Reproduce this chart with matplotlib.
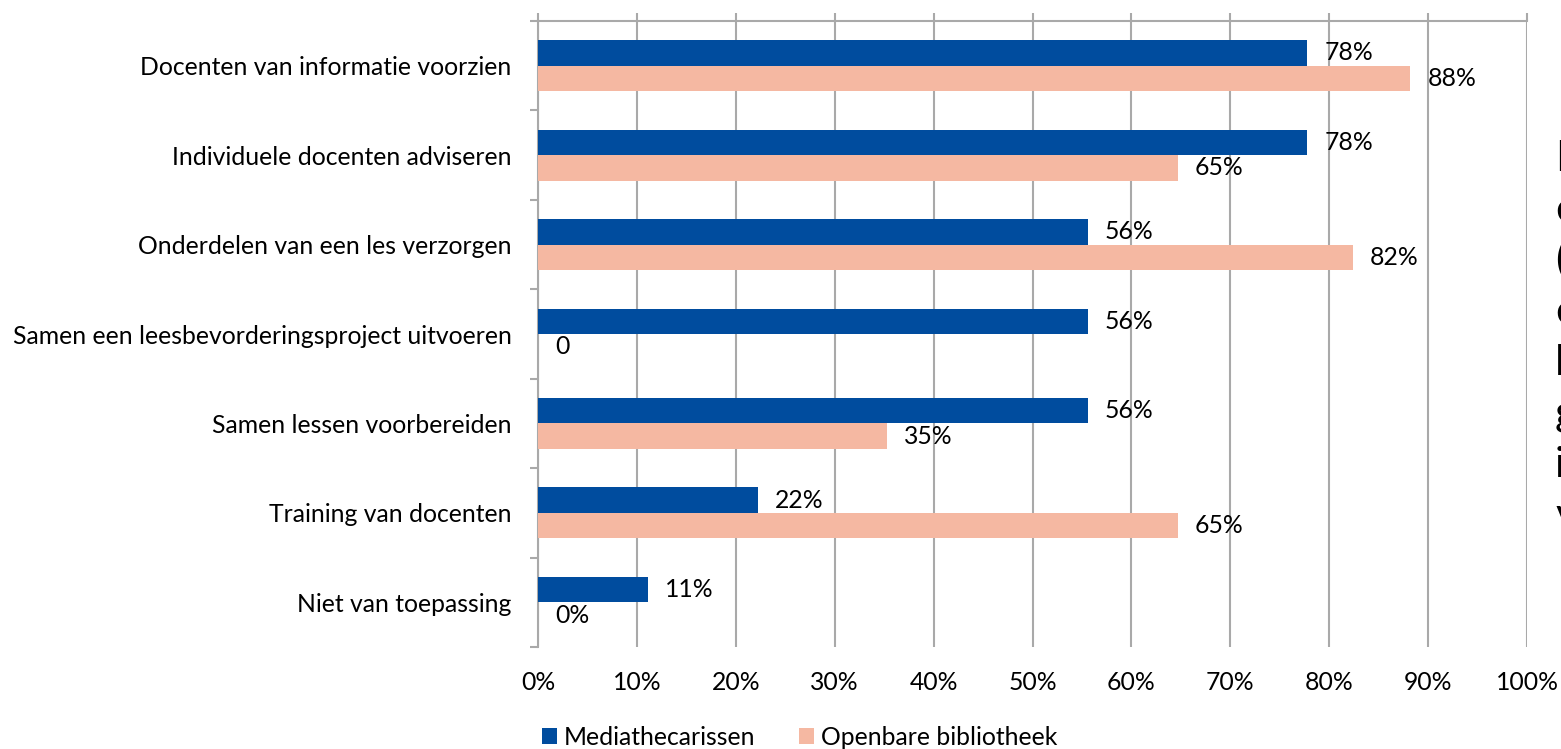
import matplotlib
matplotlib.use("Agg")
import matplotlib.pyplot as plt
import numpy as np
from matplotlib.transforms import offset_copy

categories = [
    "Docenten van informatie voorzien",
    "Individuele docenten adviseren",
    "Onderdelen van een les verzorgen",
    "Samen een leesbevorderingsproject uitvoeren",
    "Samen lessen voorbereiden",
    "Training van docenten",
    "Niet van toepassing",
]
series_names = ["Mediathecarissen", "Openbare bibliotheek"]
media = [77.8, 77.8, 55.6, 55.6, 55.6, 22.2, 11.1]
openbaar = [88.2, 64.7, 82.4, 0.0, 35.3, 64.7, 0.0]
media_labels = ["78%", "78%", "56%", "56%", "56%", "22%", "11%"]
openbaar_labels = ["88%", "65%", "82%", "0", "35%", "65%", "0%"]
xtick_values = list(range(0, 101, 10))
xtick_labels = [f"{v}%" for v in xtick_values]
side_chars = ["I", "e", "(", "e", "l", "g", "i", "v"]

BLUE = "#004C9E"
PINK = "#F5B8A2"
GRID = "#A9A9A9"
FONT = "Lato"
FS = 17.8

W, H = 1561, 749
fig = plt.figure(figsize=(W / 100, H / 100), dpi=100)
left, right, top, bottom = 538, 1527, 21, 647
ax = fig.add_axes([left / W, 1 - bottom / H, (right - left) / W, (bottom - top) / H])

n = len(categories)
y = np.arange(n)
h = 0.285
ax.barh(y - h / 2, media, height=h, color=BLUE, label=series_names[0], zorder=3)
ax.barh(y + h / 2, openbaar, height=h, color=PINK, label=series_names[1], zorder=3)

ax.set_xlim(0, 100)
ax.set_ylim(n - 0.5, -0.5)

# value labels
tr = offset_copy(ax.transData, fig=fig, x=17, y=0, units="dots")
for i in range(n):
    ax.text(media[i], y[i] - h / 2, media_labels[i], transform=tr, va="center", ha="left",
            fontsize=FS, family=FONT, color="black", zorder=4)
    ax.text(openbaar[i], y[i] + h / 2, openbaar_labels[i], transform=tr, va="center", ha="left",
            fontsize=FS, family=FONT, color="black", zorder=4)

# x axis: line/ticks on top, labels at bottom
ax.set_xticks(xtick_values)
ax.set_xticklabels(xtick_labels, family=FONT, fontsize=FS)
ax.xaxis.set_ticks_position("top")
ax.tick_params(axis="x", which="major", top=True, bottom=False, labeltop=False, labelbottom=True,
               length=5.8, width=1.5, color=GRID, direction="out", pad=11.5)
ax.grid(axis="x", color=GRID, linewidth=1.5, zorder=0)

# y axis: ticks at category boundaries, labels at centers
ax.set_yticks(np.arange(-0.5, n, 1.0))
ax.set_yticklabels([])
ax.set_yticks(y, minor=True)
ax.set_yticklabels(categories, minor=True, family=FONT, fontsize=FS)
ax.tick_params(axis="y", which="major", length=5.8, width=1.5, color=GRID, direction="out")
ax.tick_params(axis="y", which="minor", length=0, pad=19)

for s in ["bottom", "right"]:
    ax.spines[s].set_visible(False)
for s in ["top", "left"]:
    ax.spines[s].set_color(GRID)
    ax.spines[s].set_linewidth(1.5)
ax.set_axisbelow(True)

leg = fig.legend(loc="lower left", bbox_to_anchor=(527 / W, -0.02), ncol=2, frameon=False,
                 prop={"family": FONT, "size": FS}, handlelength=0.62, handleheight=0.62,
                 handletextpad=0.28, columnspacing=1.75, borderaxespad=0.2)

# clipped slide text at right edge
for k, ch in enumerate(side_chars):
    fig.text(1555 / W, 1 - (171 + 51 * k) / H, ch, fontsize=31, family=FONT,
             ha="left", va="baseline", color="black")

fig.savefig("out.png", dpi=100)
